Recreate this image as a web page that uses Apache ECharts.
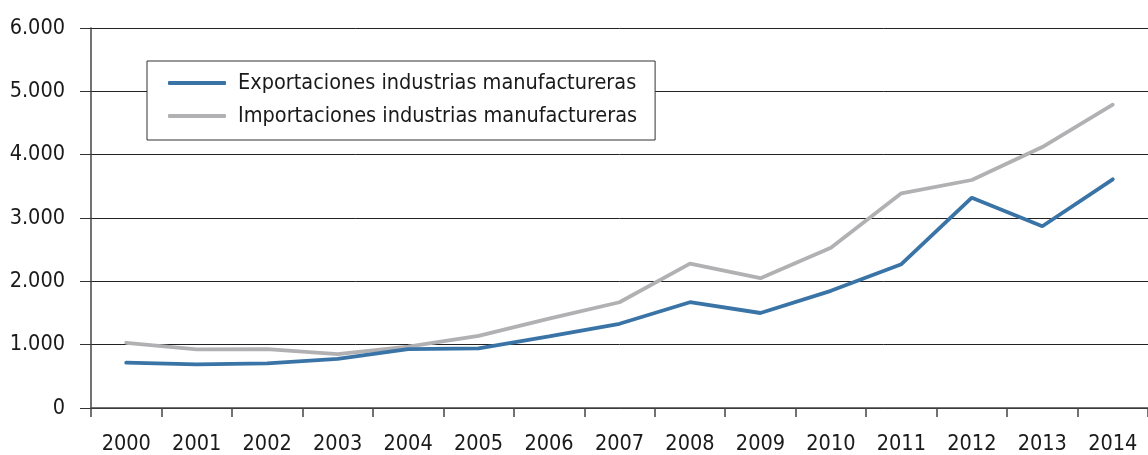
<!DOCTYPE html>
<html>
<head>
<meta charset="utf-8">
<script src="https://cdn.jsdelivr.net/npm/echarts@6/dist/echarts.min.js"></script>
<style>
html,body{margin:0;padding:0;background:#fff;}
#c{width:1148px;height:455px;}
</style>
</head>
<body>
<div id="c"></div>
<script>
const years = ['2000','2001','2002','2003','2004','2005','2006','2007','2008','2009','2010','2011','2012','2013','2014'];
const exportaciones = [715, 690, 705, 775, 930, 940, 1130, 1330, 1670, 1500, 1850, 2270, 3320, 2870, 3610];
const importaciones = [1030, 925, 930, 850, 970, 1140, 1410, 1670, 2280, 2050, 2530, 3390, 3600, 4120, 4790];
const seriesNames = ['Exportaciones industrias manufactureras', 'Importaciones industrias manufactureras'];
const seriesColors = ['#3a74a6', '#b1b1b3'];

const FONT = "'DejaVu Sans Condensed', 'Liberation Sans', sans-serif";
const chart = echarts.init(document.getElementById('c'), null, {renderer: 'canvas'});
const fmt = v => String(v).replace(/\B(?=(\d{3})+(?!\d))/g, '.');

chart.setOption({
  animation: false,
  backgroundColor: '#fff',
  grid: {left: 91, top: 28, width: 1066.5, height: 384.7, containLabel: false},
  legend: {
    orient: 'vertical',
    left: 147, top: 61,
    padding: [10, 18, 12, 21],
    itemGap: 9,
    itemWidth: 58,
    itemHeight: 4,
    backgroundColor: '#fff',
    borderColor: '#333',
    borderWidth: 1,
    textStyle: {fontFamily: FONT, fontSize: 21.5, lineHeight: 24, color: '#1a1a1a', padding: [0,0,0,7]},
    data: seriesNames.map((n, i) => ({name: n, icon: 'roundRect', itemStyle: {color: seriesColors[i]}}))
  },
  xAxis: {
    type: 'category',
    data: years,
    boundaryGap: true,
    axisLine: {show: true, lineStyle: {color: '#444', width: 1.5}},
    axisTick: {show: true, length: 9, alignWithLabel: false, lineStyle: {color: '#444', width: 1.5}},
    axisLabel: {interval: 0, fontFamily: FONT, fontSize: 21.5, color: '#1a1a1a', margin: 25},
    splitLine: {show: false}
  },
  yAxis: {
    type: 'value',
    min: 0, max: 6000, interval: 1000,
    axisLine: {show: true, lineStyle: {color: '#444', width: 1.5}},
    axisTick: {show: true, length: 11, inside: false, lineStyle: {color: '#333', width: 1}},
    axisLabel: {fontFamily: FONT, fontSize: 21.5, color: '#1a1a1a', margin: 26, formatter: fmt},
    splitLine: {show: true, lineStyle: {color: '#222', width: 1}}
  },
  series: [
    {
      name: seriesNames[0], type: 'line', data: exportaciones,
      symbol: 'none', smooth: false,
      lineStyle: {color: seriesColors[0], width: 3.8, cap: 'round'},
      itemStyle: {color: seriesColors[0]},
      z: 3
    },
    {
      name: seriesNames[1], type: 'line', data: importaciones,
      symbol: 'none', smooth: false,
      lineStyle: {color: seriesColors[1], width: 3.8, cap: 'round'},
      itemStyle: {color: seriesColors[1]},
      z: 2
    }
  ]
});
</script>
</body>
</html>
